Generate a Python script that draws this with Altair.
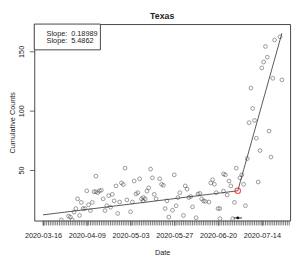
import altair as alt
import pandas as pd

# ---------------- data ----------------
title_text = "Texas"
base_date = "2020-03-16"
day_offset = [10, 14, 15, 16, 17, 18, 19, 20, 21, 22, 23, 24, 25, 26, 27, 28, 29, 29, 30, 31,
              32, 33, 34, 35, 36, 37, 38, 39, 40, 41, 42, 43, 44, 45, 46, 48, 49, 50, 51, 52,
              53, 54, 55, 55, 56, 57, 58, 59, 60, 61, 62, 64, 65, 66, 67, 68, 69, 71, 72, 73,
              74, 75, 77, 78, 79, 80, 81, 82, 84, 85, 86, 87, 88, 89, 91, 92, 93, 94, 95, 96,
              97, 97, 99, 99, 100, 101, 102, 103, 104, 105, 106, 108, 109, 110, 111, 112, 113, 114, 115, 116,
              117, 118, 119, 120, 121, 122, 123, 124, 125, 126, 127, 130, 131]
counts = [7.9, 11.1, 10.4, 7.9, 14.5, 17.5, 25.7, 11.7, 22.7, 17.5, 17.5, 32.5, 20.7, 15.8, 22.7, 31.7, 44.8, 31.7, 30.9, 32.5,
          33.0, 25.7, 15.8, 19.9, 28.4, 18.6, 29.5, 24.0, 36.6, 13.4, 23.0, 39.1, 37.7, 51.6, 24.8, 14.8, 23.0, 40.7, 29.8, 30.9,
          42.6, 25.7, 24.0, 26.8, 25.7, 32.2, 35.0, 50.8, 43.4, 29.5, 25.7, 42.6, 38.0, 37.1, 17.5, 24.0, 10.4, 16.1, 45.9, 19.9,
          26.8, 30.9, 11.7, 36.6, 33.9, 26.8, 27.6, 18.9, 9.8, 29.8, 30.3, 25.7, 24.0, 23.5, 23.0, 39.1, 41.8, 38.0, 30.9, 17.5,
          9.0, 17.5, 46.7, 32.2, 45.9, 28.9, 40.7, 36.6, 9.0, 22.7, 51.6, 43.4, 45.9, 38.0, 19.9, 59.6, 89.9, 119.1, 101.9, 91.8,
          76.8, 39.9, 66.4, 136.1, 141.0, 154.1, 145.1, 82.8, 60.9, 127.3, 159.6, 162.3, 126.0]

slopes = [0.18989, 5.4862]
line_start_day = 0
line_start_count = 12.2
breakpoint_day = 106.8
line_end_day = 131
ci_days = [104.6, 109.1]
ci_level = 9.6

tick_labels = ["2020-03-16", "2020-04-09", "2020-05-03", "2020-05-27", "2020-06-20", "2020-07-14"]
minor_tick_days = list(range(0, 136))
y_ticks = [50, 100, 150]

base = pd.Timestamp(base_date)


def to_date(d):
    return base + pd.to_timedelta(d, unit="D")


def dt(ts):
    return alt.DateTime(year=ts.year, month=ts.month, date=ts.day, hours=ts.hour, minutes=ts.minute)


pts = pd.DataFrame({"date": [to_date(d) for d in day_offset], "count": counts})

bp_count = line_start_count + slopes[0] * (breakpoint_day - line_start_day)
end_count = bp_count + slopes[1] * (line_end_day - breakpoint_day)
lines = pd.DataFrame({
    "date": [to_date(line_start_day), to_date(breakpoint_day), to_date(breakpoint_day), to_date(line_end_day)],
    "count": [line_start_count, bp_count, bp_count, end_count],
    "seg": [1, 1, 2, 2],
})
bp = pd.DataFrame({"date": [to_date(breakpoint_day)], "count": [bp_count]})
ci = pd.DataFrame({"date": [to_date(ci_days[0])], "date2": [to_date(ci_days[1])], "count": [ci_level]})
ci_pt = pd.DataFrame({"date": [to_date(breakpoint_day)], "count": [ci_level]})
minor = pd.DataFrame({"date": [to_date(d) for d in minor_tick_days]})

x_domain = [dt(to_date(-4.8)), dt(to_date(135.5))]
label_values = [dt(pd.Timestamp(s)) for s in tick_labels]

FONT = "Liberation Sans"
INK = "#222"

x_scale = alt.Scale(domain=x_domain, nice=False)
y_scale = alt.Scale(domain=[7.4, 173], nice=False, zero=False)

x_axis = alt.Axis(values=label_values, format="%Y-%m-%d", labelOverlap=False, labelFlush=False,
                  labelBound=False, tickSize=5, tickWidth=0.8, tickColor="#555", labelPadding=6,
                  labelFontSize=7.5, labelFont=FONT, labelColor=INK, title="Date",
                  titleFont=FONT, titleFontSize=7.5, titleFontWeight="normal", titleColor=INK,
                  titleX=131.5, titleY=34.5, titleBaseline="alphabetic", titleAlign="center",
                  domain=False, grid=False)
y_axis = alt.Axis(values=y_ticks, tickSize=5, tickWidth=0.8, tickColor="#444",
                  labelAngle=270, labelAlign="center", labelBaseline="bottom", labelPadding=4,
                  labelFontSize=7.5, labelFont=FONT, labelColor=INK,
                  title="Cumulative Counts", titleFont=FONT, titleFontSize=7.5,
                  titleFontWeight="normal", titleColor=INK, titleAngle=270,
                  titleX=-26, titleY=101, titleBaseline="top", titleAlign="center",
                  domain=False, grid=False)

points = alt.Chart(pts).mark_point(shape="circle", size=15, filled=False, stroke="#333",
                                   strokeWidth=0.7, clip=True).encode(
    x=alt.X("date:T", scale=x_scale, axis=x_axis),
    y=alt.Y("count:Q", scale=y_scale, axis=y_axis),
)

minor_ticks = alt.Chart(minor).mark_rule(color="#555", strokeWidth=0.8).encode(
    x="date:T", y=alt.value(202), y2=alt.value(207)
)

seg_lines = alt.Chart(lines).mark_line(color="#444", strokeWidth=0.9, clip=True).encode(
    x="date:T", y="count:Q", detail="seg:N"
)

bp_mark = alt.Chart(bp).mark_point(shape="circle", size=32, filled=False, stroke="#ff0000",
                                   strokeWidth=1.1).encode(x="date:T", y="count:Q")

ci_rule = alt.Chart(ci).mark_rule(color="#111", strokeWidth=0.9).encode(
    x="date:T", x2="date2:T", y="count:Q"
)
ci_dot = alt.Chart(ci_pt).mark_point(shape="circle", size=8, filled=True, color="#111",
                                     opacity=1).encode(x="date:T", y="count:Q")

one = alt.Data(values=[{"k": 1}])
legend_box = alt.Chart(one).mark_rect(fill="white", stroke="#444", strokeWidth=1).encode(
    x=alt.value(0), x2=alt.value(68), y=alt.value(0), y2=alt.value(26.5)
)

legend_layers = []
for i, s in enumerate(slopes):
    yy = 9.8 + 8 * i
    legend_layers.append(
        alt.Chart(one).mark_text(text="Slope:", align="left", baseline="middle", font=FONT,
                                 fontSize=7.5, color=INK).encode(x=alt.value(12.7), y=alt.value(yy))
    )
    legend_layers.append(
        alt.Chart(one).mark_text(text=str(s), align="left", baseline="middle", font=FONT,
                                 fontSize=7.5, color=INK).encode(x=alt.value(38), y=alt.value(yy))
    )

title_mark = alt.Chart(one).mark_text(text=title_text, align="center", baseline="middle", font=FONT,
                                      fontSize=9, fontWeight="bold", color=INK).encode(
    x=alt.value(131.5), y=alt.value(-8.5)
)

chart = alt.layer(points, minor_ticks, seg_lines, ci_rule, ci_dot, bp_mark, legend_box,
                  *legend_layers, title_mark).properties(
    width=263,
    height=202,
    autosize=alt.AutoSizeParams(type="none"),
    padding={"left": 27, "top": 13, "right": 3, "bottom": 36},
    background="white",
).configure_view(stroke="#444", strokeWidth=1)

chart.save("out.html", embed_options={"renderer": "svg", "actions": False})
